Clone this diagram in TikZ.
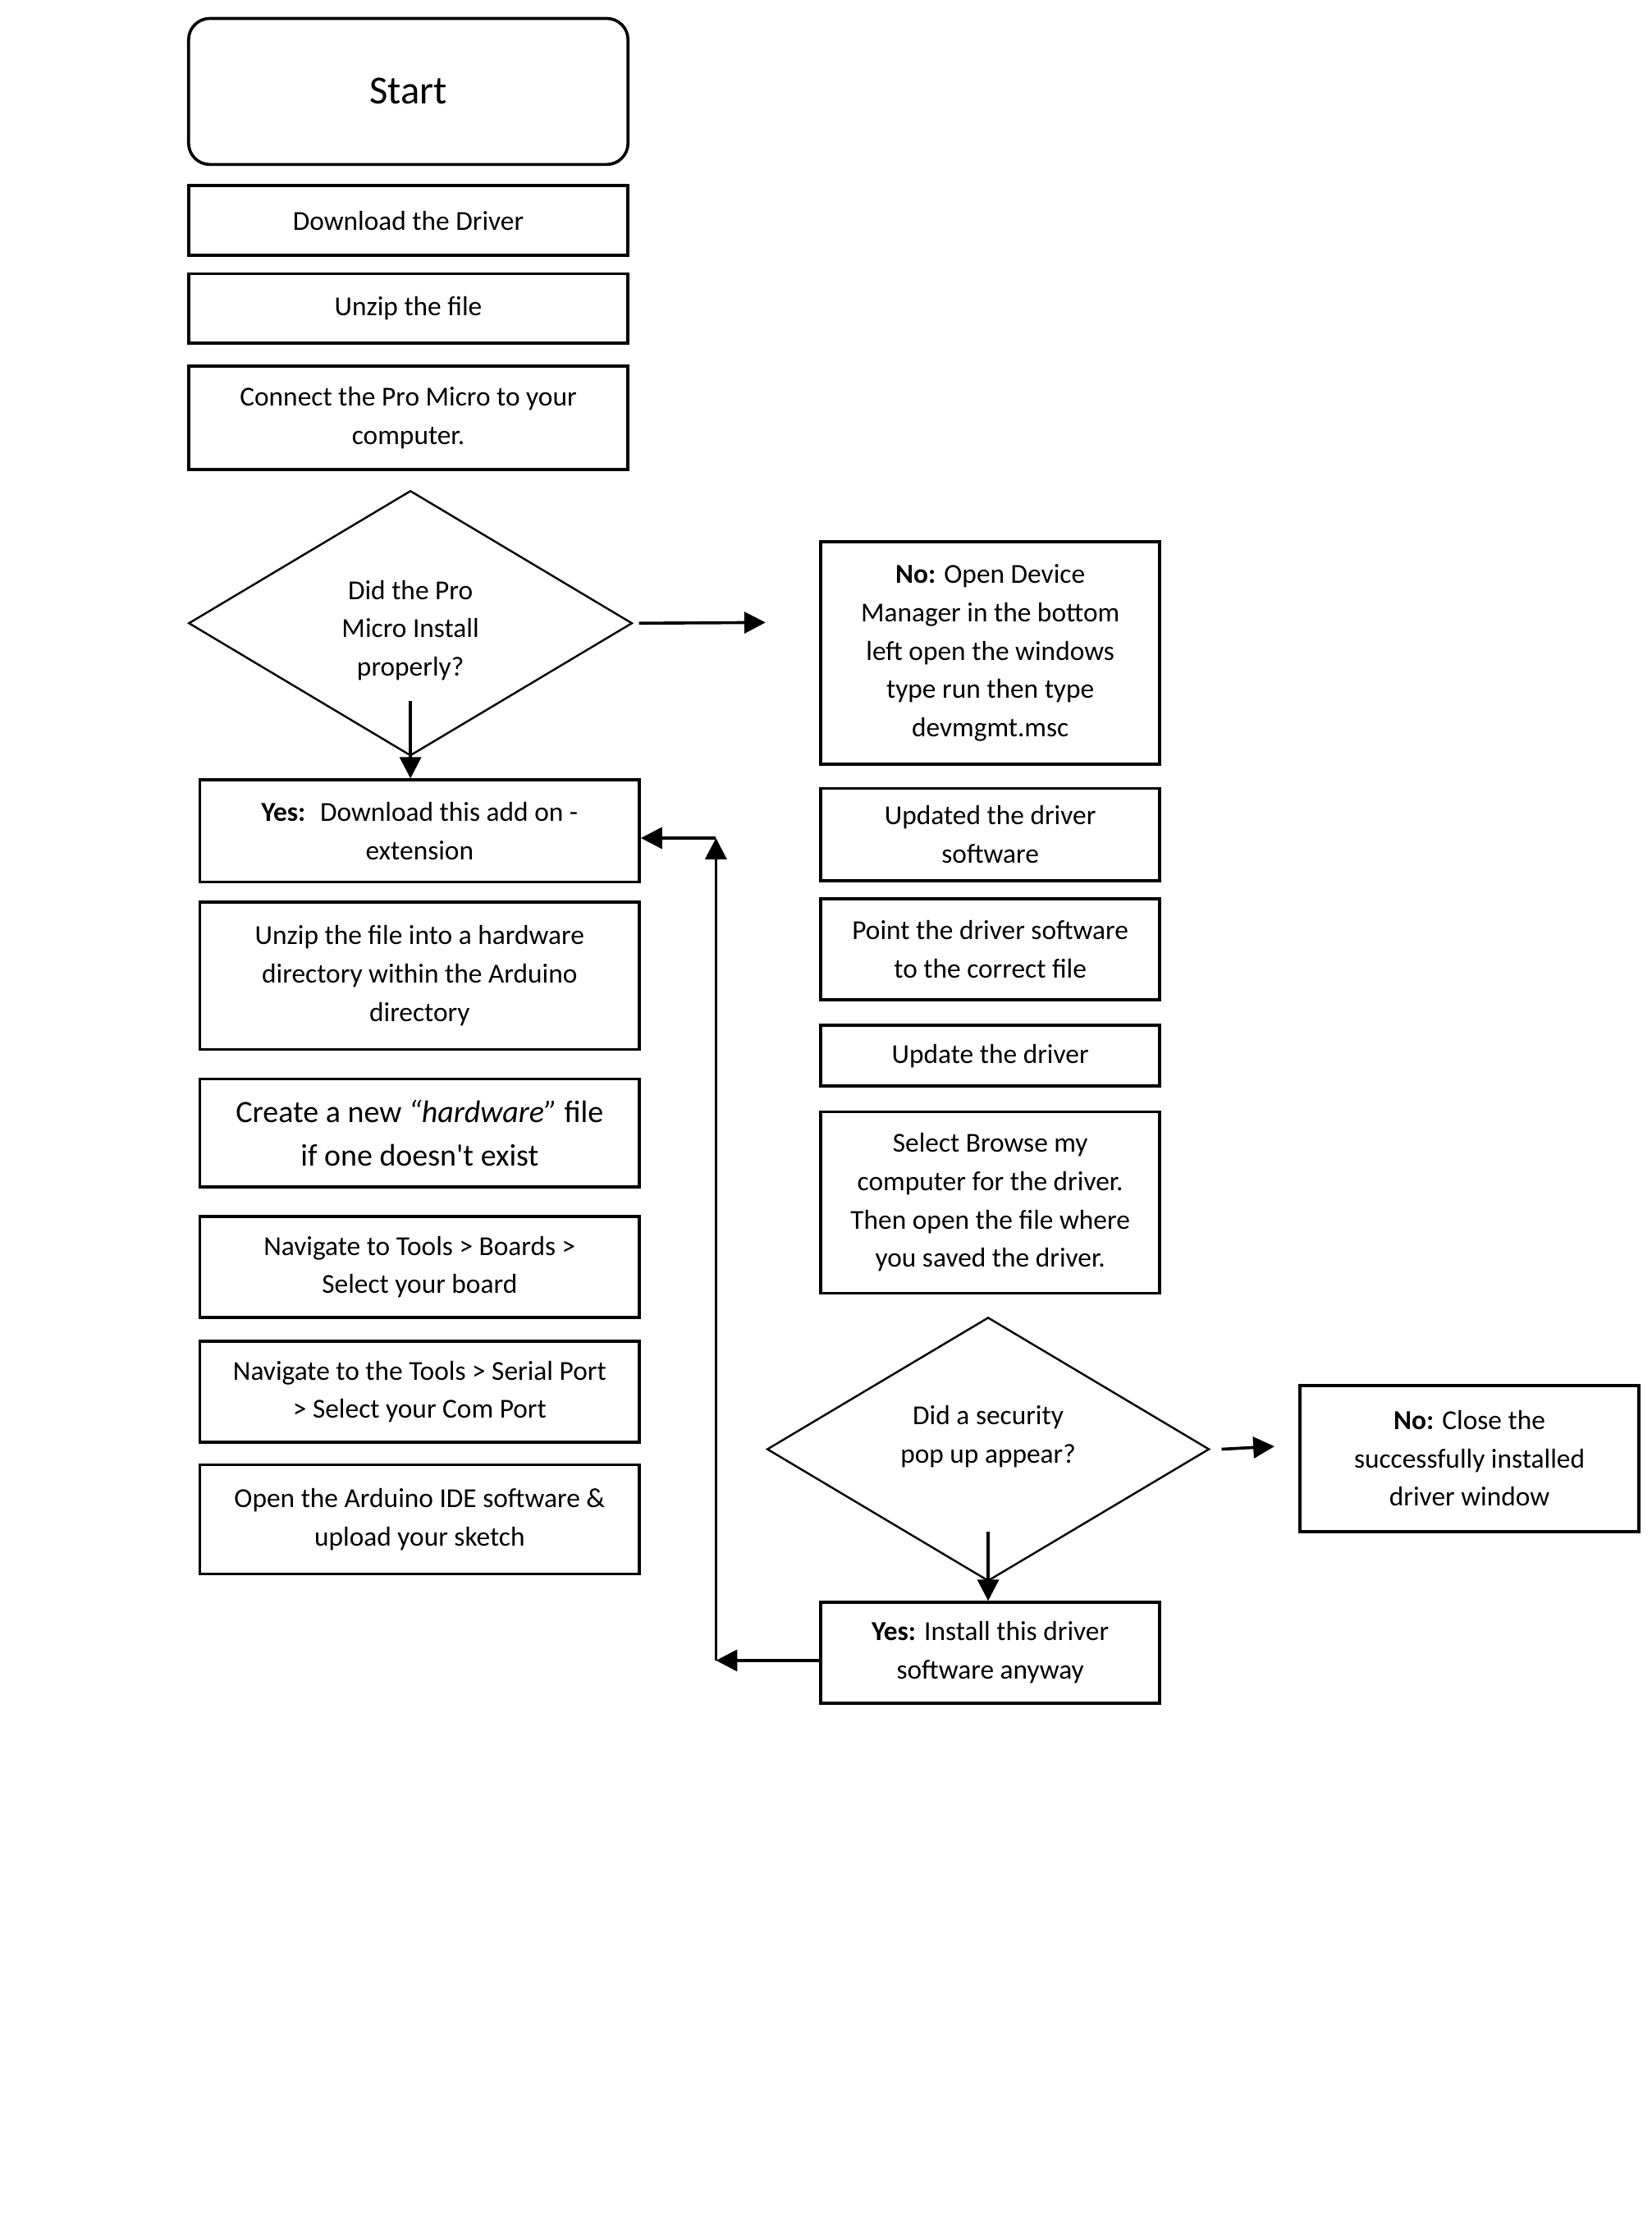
\documentclass[tikz,border=0pt]{standalone}
\usepackage{fontspec}
\setmainfont{Carlito}
\usetikzlibrary{shapes.geometric,arrows.meta,positioning}

\begin{document}
\begin{tikzpicture} [
      x = 0.02cm, y = -0.02cm,
      every node/.style = {font=\fontsize{11}{15.4}\selectfont, align=center, inner sep=0},
      stepbox/.style = {draw, line width=1.2pt, minimum width=6.2cm},
      rbox/.style = {draw, line width=1.2pt, minimum width=4.78cm},
      decision/.style = {draw, diamond, line width=0.8pt, aspect=1.7, minimum width=6.26cm, minimum height=3.74cm},
      arr/.style = {line width=1.2pt, -{Triangle[length=3mm,width=3mm]}}
      ]
    \useasboundingbox (0,0) rectangle (1165,1567);

    % left column
    \node [stepbox, rounded corners=0.3cm, minimum height=2.06cm, font=\fontsize{16}{19}\selectfont] (start) at (288,64.5) {\raisebox{-0.06cm}{Start}};
    \node [stepbox, minimum height=0.98cm] (download) at (288,155.5) {Download the Driver};
    \node [stepbox, minimum height=0.98cm] (unzip) at (288,217.5) {Unzip the file};
    \node [stepbox, minimum height=1.46cm] (connect) at (288,294.5) {Connect the Pro Micro to your\\computer.};
    \node [decision] (installed) at (289.5,439.5) {};
    \node (installedtxt) at ([yshift=-0.1cm]installed.center) {Did the Pro\\Micro Install\\properly?};

    \node [stepbox, minimum height=1.44cm] (addon) at (296,586) {\textbf{Yes:}~ Download this add on -\\extension};
    \node [stepbox, minimum height=2.08cm] (unziphw) at (296,688) {Unzip the file into a hardware\\directory within the Arduino\\directory};
    \node [stepbox, minimum height=1.52cm, font=\fontsize{12.5}{17.6}\selectfont] (newfile) at (296,799) {Create a new \textit{``hardware''} file\\if one doesn\textquotesingle t exist};
    \node [stepbox, minimum height=1.42cm] (boards) at (296,893.5) {Navigate to Tools > Boards >\\Select your board};
    \node [stepbox, minimum height=1.42cm] (serial) at (296,981.5) {Navigate to the Tools > Serial Port\\> Select your Com Port};
    \node [stepbox, minimum height=1.54cm] (upload) at (296,1071.5) {Open the Arduino IDE software \&\\upload your sketch};

    % right column
    \node [rbox, minimum height=3.14cm] (devmgr) at (698.5,460.5) {\textbf{No:} Open Device\\Manager in the bottom\\left open the windows\\type run then type\\devmgmt.msc};
    \node [rbox, minimum height=1.30cm] (updated) at (698.5,588.5) {Updated the driver\\software};
    \node [rbox, minimum height=1.42cm] (point) at (698.5,669.5) {Point the driver software\\to the correct file};
    \node [rbox, minimum height=0.86cm] (update) at (698.5,744.5) {Update the driver};
    \node [rbox, minimum height=2.56cm] (browse) at (698.5,848) {Select Browse my\\computer for the driver.\\Then open the file where\\you saved the driver.};
    \node [decision, minimum width=6.24cm, minimum height=3.72cm] (popup) at (697,1022) {};
    \node (popuptxt) at ([yshift=0.18cm]popup.center) {Did a security\\pop up appear?};
    \node [rbox, minimum height=1.42cm] (anyway) at (698.5,1165.5) {\textbf{Yes:} Install this driver\\software anyway};
    \node [rbox, minimum height=2.06cm] (close) at (1036.5,1028.5) {\textbf{No:} Close the\\successfully installed\\driver window};

    % loose ends
    \coordinate (noend) at (540,439);
    \coordinate (closeend) at (899,1020);
    \coordinate (loopB) at (505,1171);
    \coordinate (loopT) at (505,591);

    % connectors
    \draw [arr] ([xshift=0.08cm]installed.east) -- (noend);
    \draw [arr] ([yshift=-1.1cm]installed.center) -- (installed.center |- addon.north);
    \draw [arr] ([xshift=0.16cm]popup.east) -- (closeend);
    \draw [arr] ([yshift=-1.16cm]popup.center) -- (popup.center |- anyway.north);
    \draw [arr] ([yshift=-0.11cm]anyway.west) -- (loopB);
    \draw [arr] (loopB) -- (loopT);
    \draw [arr] (loopT) -- (loopT -| addon.east);
\end{tikzpicture}
\end{document}
